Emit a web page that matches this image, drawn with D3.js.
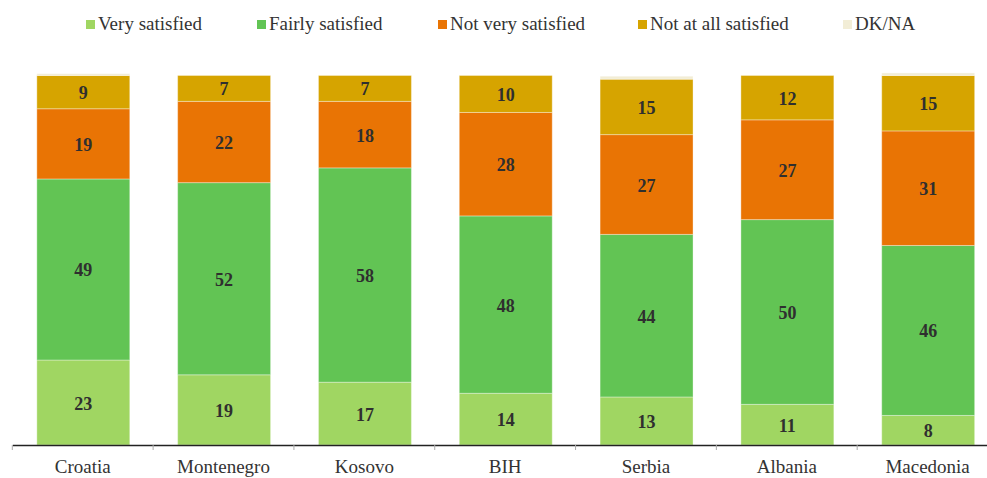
<!DOCTYPE html>
<html>
<head>
<meta charset="utf-8">
<script src="https://cdn.jsdelivr.net/npm/d3@7"></script>
<style>
  html, body { margin: 0; padding: 0; background: #fff; }
  svg { display: block; }
  text { font-family: "Liberation Serif", "DejaVu Serif", serif; }
</style>
</head>
<body>
<svg id="chart" width="987" height="478"></svg>
<script>
// Satisfaction by country (percent)
const countries = ["Croatia", "Montenegro", "Kosovo", "BIH", "Serbia", "Albania", "Macedonia"];
const seriesNames = ["Very satisfied", "Fairly satisfied", "Not very satisfied", "Not at all satisfied", "DK/NA"];
const verySatisfied   = [23, 19, 17, 14, 13, 11, 8];
const fairlySatisfied = [49, 52, 58, 48, 44, 50, 46];
const notVerySatisfied = [19, 22, 18, 28, 27, 27, 31];
const notAtAllSatisfied = [9, 7, 7, 10, 15, 12, 15];
const dkNa = [0.5, 0, 0, 0, 0.8, 0, 0.7];

const colors = ["#a0d662", "#62c454", "#e97404", "#d6a400", "#f2edd6"];
const seriesValues = [verySatisfied, fairlySatisfied, notVerySatisfied, notAtAllSatisfied, dkNa];

const rows = countries.map((c, i) => {
  const r = { country: c };
  seriesNames.forEach((s, k) => { r[s] = seriesValues[k][i]; });
  return r;
});

const svg = d3.select("#chart");

const x = d3.scaleBand().domain(countries).range([12.3, 998]).paddingInner(0).paddingOuter(0);
const y = d3.scaleLinear().domain([0, 100]).range([445, 75.5]);

const barFrac = 0.66;
const bw = x.bandwidth() * barFrac;
const barX = c => x(c) + (x.bandwidth() - bw) / 2 + 0.6;

const stacked = d3.stack().keys(seriesNames)(rows);

const layers = svg.append("g").selectAll("g")
  .data(stacked)
  .join("g")
  .attr("fill", (d, i) => colors[i]);

layers.selectAll("rect")
  .data(d => d)
  .join("rect")
  .attr("x", d => barX(d.data.country))
  .attr("width", bw)
  .attr("y", d => y(d[1]))
  .attr("height", d => Math.max(0, y(d[0]) - y(d[1])))
  .attr("stroke", "#ffffff")
  .attr("stroke-opacity", 0.35)
  .attr("stroke-width", 1);

// value labels for the four main series
const labelGroup = svg.append("g");
stacked.slice(0, 4).forEach(layer => {
  labelGroup.selectAll(null)
    .data(layer)
    .join("text")
    .attr("x", d => barX(d.data.country) + bw / 2)
    .attr("y", d => (y(d[0]) + y(d[1])) / 2 + 1)
    .attr("text-anchor", "middle")
    .attr("dominant-baseline", "central")
    .attr("font-size", 18)
    .attr("font-weight", "bold")
    .attr("fill", "#2f2f2f")
    .text(d => d.data[layer.key]);
});

// x axis
const axis = d3.axisBottom(x).tickSize(0).tickPadding(0);
const ax = svg.append("g").attr("transform", "translate(0,445)").call(axis);
ax.select(".domain").attr("stroke", "#222").attr("stroke-width", 1.5);
ax.selectAll(".tick text")
  .attr("y", 28)
  .attr("dy", null)
  .attr("font-size", 19)
  .attr("fill", "#333")
  .style("font-family", "'Liberation Serif', serif");

// tick marks at category boundaries
const bounds = countries.map(c => x(c)).concat([x.range()[1]]);
ax.selectAll("line.sep")
  .data(bounds)
  .join("line")
  .attr("class", "sep")
  .attr("x1", d => d).attr("x2", d => d)
  .attr("y1", 0).attr("y2", 5)
  .attr("stroke", "#aaa")
  .attr("stroke-width", 1);

// legend
const legendX = [86, 257, 438, 638, 843];
const legend = svg.append("g");
seriesNames.forEach((s, i) => {
  const g = legend.append("g").attr("transform", `translate(${legendX[i]},20)`);
  g.append("rect").attr("width", 9).attr("height", 9).attr("fill", colors[i]);
  g.append("text")
    .attr("x", 12)
    .attr("y", 10)
    .attr("font-size", 19)
    .attr("fill", "#333")
    .text(s);
});
</script>
</body>
</html>
